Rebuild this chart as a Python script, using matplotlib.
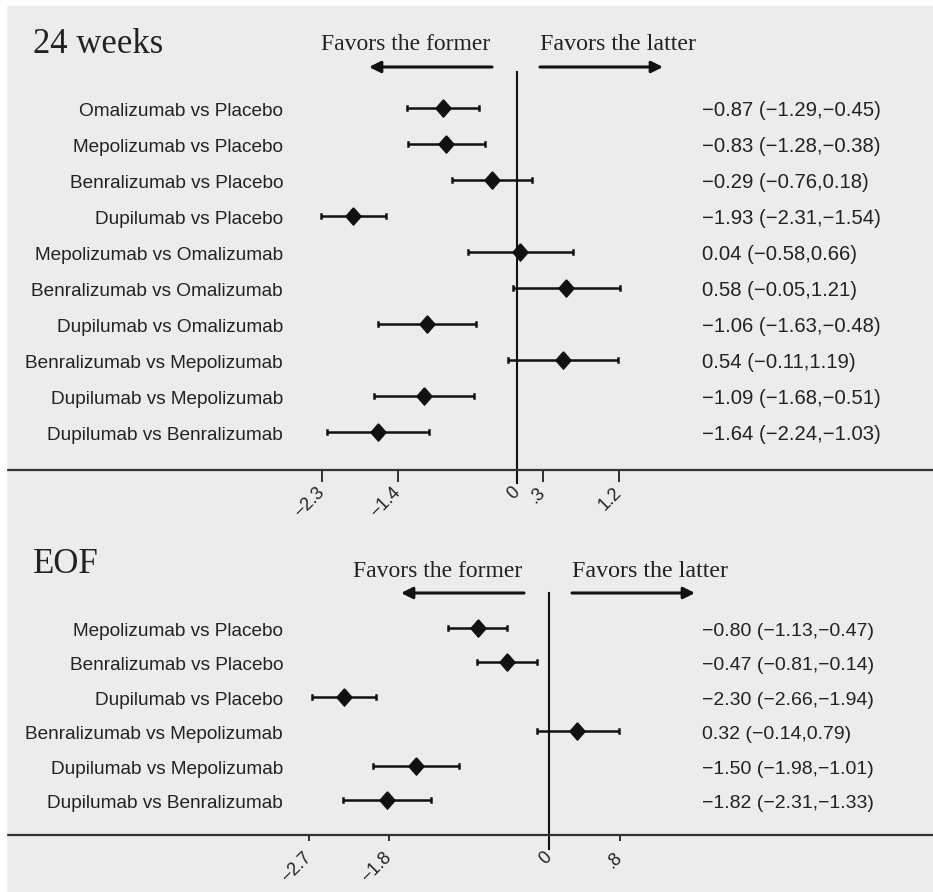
# ------------------------------------------------------------
# Forest plot: 24 weeks and EOF comparisons
# ------------------------------------------------------------
import matplotlib.pyplot as plt
import matplotlib.transforms as mtransforms
from matplotlib.patches import Rectangle, FancyArrowPatch

# ------------------------------------------------------------
# Data
# ------------------------------------------------------------
top_labels = ["Omalizumab vs Placebo", "Mepolizumab vs Placebo",
              "Benralizumab vs Placebo", "Dupilumab vs Placebo",
              "Mepolizumab vs Omalizumab", "Benralizumab vs Omalizumab",
              "Dupilumab vs Omalizumab", "Benralizumab vs Mepolizumab",
              "Dupilumab vs Mepolizumab", "Dupilumab vs Benralizumab"]
top_est = [-0.87, -0.83, -0.29, -1.93, 0.04, 0.58, -1.06, 0.54, -1.09, -1.64]
top_lo = [-1.29, -1.28, -0.76, -2.31, -0.58, -0.05, -1.63, -0.11, -1.68, -2.24]
top_hi = [-0.45, -0.38, 0.18, -1.54, 0.66, 1.21, -0.48, 1.19, -0.51, -1.03]
top_ticks = [-2.3, -1.4, 0, 0.3, 1.2]
top_ticklabels = ["\u22122.3", "\u22121.4", "0", ".3", "1.2"]

eof_labels = ["Mepolizumab vs Placebo", "Benralizumab vs Placebo",
              "Dupilumab vs Placebo", "Benralizumab vs Mepolizumab",
              "Dupilumab vs Mepolizumab", "Dupilumab vs Benralizumab"]
eof_est = [-0.80, -0.47, -2.30, 0.32, -1.50, -1.82]
eof_lo = [-1.13, -0.81, -2.66, -0.14, -1.98, -2.31]
eof_hi = [-0.47, -0.14, -1.94, 0.79, -1.01, -1.33]
eof_ticks = [-2.7, -1.8, 0, 0.8]
eof_ticklabels = ["\u22122.7", "\u22121.8", "0", ".8"]

# ------------------------------------------------------------
# Figure setup (pixel helpers)
# ------------------------------------------------------------
W, H = 933, 892
BG = "#ececec"
INK = "#111111"
TXT = "#222222"
DIAMOND = [(0, 1), (0.88, 0), (0, -1), (-0.88, 0), (0, 1)]

fig = plt.figure(figsize=(W / 100, H / 100), dpi=100)
fig.patch.set_facecolor(BG)
# white strips at top and left edge
fig.patches.append(Rectangle((0, 1 - 5 / H), 1, 5 / H, transform=fig.transFigure,
                             color="white", zorder=0))
fig.patches.append(Rectangle((0, 0), 6 / W, 1, transform=fig.transFigure,
                             color="white", zorder=0))


def fx(px):
    return px / W


def fy(py):
    return 1 - py / H


def fmt(v):
    return f"{v:.2f}".replace("-", "\u2212")


def panel(top_px, bottom_px, zero_px, scale, row0, step,
          labels, est, lo, hi, ticks, ticklabels, ticklen, zero_ext,
          title, title_base, favors_base, arrow_y, value_x, value_size):
    left_px = 8
    ax = fig.add_axes([fx(left_px), fy(bottom_px), fx(W - left_px),
                       (bottom_px - top_px) / H])
    ax.set_facecolor("none")
    ax.set_xlim((left_px - zero_px) / scale, (W - zero_px) / scale)
    ax.set_ylim((bottom_px - row0) / step, (top_px - row0) / step)

    n = len(labels)
    rows = list(range(n))
    for i in rows:
        ax.plot([lo[i], hi[i]], [i, i], color=INK, lw=1.8,
                solid_capstyle="butt")
        ax.plot([lo[i], lo[i]], [i - 0.06, i + 0.06], color=INK, lw=1.8)
        ax.plot([hi[i], hi[i]], [i - 0.06, i + 0.06], color=INK, lw=1.8)
    ax.plot(est, rows, marker=DIAMOND, color=INK, markersize=12.5,
            linestyle="none")

    # zero line
    ax.axvline(0, ymin=-zero_ext / (bottom_px - top_px), ymax=1,
               color=INK, lw=1.5, clip_on=False)

    # row labels and values (baseline 8 px below row centre)
    trans = mtransforms.blended_transform_factory(ax.transAxes, ax.transData)
    trans = mtransforms.offset_copy(trans, fig=fig, y=-8, units="dots")
    for i in rows:
        ax.text((283 - left_px) / (W - left_px), i, labels[i], transform=trans,
                ha="right", va="baseline", fontsize=13.7, color=TXT,
                family="Liberation Sans")
        ax.text((value_x - left_px) / (W - left_px), i,
                f"{fmt(est[i])} ({fmt(lo[i])},{fmt(hi[i])})", transform=trans,
                ha="left", va="baseline", fontsize=value_size, color=TXT,
                family="Liberation Sans")

    # axes styling
    for s in ["top", "left", "right"]:
        ax.spines[s].set_visible(False)
    ax.spines["bottom"].set_color("#333333")
    ax.spines["bottom"].set_linewidth(1.6)
    ax.set_yticks([])
    ax.set_xticks(ticks)
    ax.set_xticklabels(ticklabels, rotation=45, ha="right", va="center",
                       rotation_mode="anchor", fontsize=13,
                       family="Liberation Sans", color=TXT)
    # labels sit 20 px below the axis whatever the tick length
    ax.tick_params(axis="x", direction="out", length=ticklen * 0.72, width=1.2,
                   color=INK, pad=(20 - ticklen) * 0.72)

    # title and favours annotations
    fig.text(fx(33), fy(title_base), title, ha="left", va="baseline",
             fontsize=25, family="Liberation Serif", color=TXT)
    fig.text(fx(zero_px - 27), fy(favors_base), "Favors the former",
             ha="right", va="baseline", fontsize=17,
             family="Liberation Serif", color=TXT)
    fig.text(fx(zero_px + 23), fy(favors_base), "Favors the latter",
             ha="left", va="baseline", fontsize=17.3,
             family="Liberation Serif", color=TXT)
    arrow = dict(arrowstyle="-|>", color=INK, lw=2.2, mutation_scale=17,
                 shrinkA=0, shrinkB=0)
    fig.add_artist(FancyArrowPatch(
        (fx(zero_px - 25), fy(arrow_y)), (fx(zero_px - 148), fy(arrow_y)),
        transform=fig.transFigure, **arrow))
    fig.add_artist(FancyArrowPatch(
        (fx(zero_px + 23), fy(arrow_y)), (fx(zero_px + 146), fy(arrow_y)),
        transform=fig.transFigure, **arrow))
    return ax


# ------------------------------------------------------------
# 24 weeks panel
# ------------------------------------------------------------
panel(top_px=72, bottom_px=470, zero_px=517, scale=85, row0=108, step=36,
      labels=top_labels, est=top_est, lo=top_lo, hi=top_hi,
      ticks=top_ticks, ticklabels=top_ticklabels, ticklen=12, zero_ext=13,
      title="24 weeks", title_base=53, favors_base=50, arrow_y=67,
      value_x=702, value_size=14.6)

# ------------------------------------------------------------
# EOF panel
# ------------------------------------------------------------
panel(top_px=593, bottom_px=835, zero_px=549, scale=89, row0=628, step=34.4,
      labels=eof_labels, est=eof_est, lo=eof_lo, hi=eof_hi,
      ticks=eof_ticks, ticklabels=eof_ticklabels, ticklen=6, zero_ext=14,
      title="EOF", title_base=573, favors_base=577, arrow_y=593,
      value_x=702, value_size=14)

fig.savefig("out.png", dpi=100, facecolor=fig.get_facecolor())
